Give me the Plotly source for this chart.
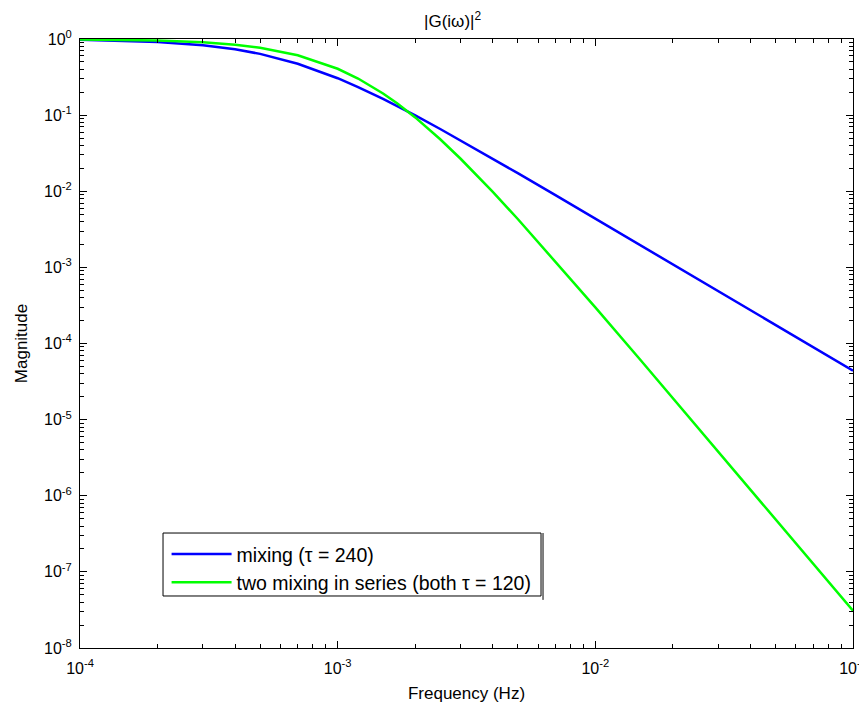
import plotly.graph_objects as go

freq = [1e-4, 2e-4, 3e-4, 4e-4, 5e-4, 7e-4, 1e-3, 1.2e-3, 1.5e-3, 1.7e-3, 2e-3,
        2.5e-3, 3e-3, 4e-3, 5e-3, 7e-3, 1e-2, 1.5e-2, 2e-2, 3e-2, 5e-2, 7e-2, 1e-1]
mag_mixing = [0.9778, 0.9166, 0.8301, 0.7332, 0.6376, 0.4730, 0.3054, 0.2339, 0.1635,
              0.1321, 0.0990, 0.06574, 0.04658, 0.02675, 0.01729, 0.008894, 0.004378,
              0.001951, 0.001098, 4.883e-4, 1.759e-4, 8.973e-5, 4.397e-5]
mag_series = [0.9887, 0.9560, 0.9050, 0.8402, 0.7666, 0.6117, 0.4065, 0.3023, 0.1925,
              0.1432, 0.09329, 0.04824, 0.02672, 0.009811, 0.004321, 0.001201, 2.988e-4,
              6.017e-5, 1.917e-5, 3.804e-6, 4.943e-7, 1.2877e-7, 3.093e-8]

x_tickvals = [1e-4, 1e-3, 1e-2, 1e-1]
x_ticktext = ["10<sup>-4</sup>", "10<sup>-3</sup>", "10<sup>-2</sup>", "10<sup>-1</sup>"]
y_tickvals = [1e-8, 1e-7, 1e-6, 1e-5, 1e-4, 1e-3, 1e-2, 1e-1, 1e0]
y_ticktext = ["10<sup>-8</sup>", "10<sup>-7</sup>", "10<sup>-6</sup>", "10<sup>-5</sup>",
              "10<sup>-4</sup>", "10<sup>-3</sup>", "10<sup>-2</sup>", "10<sup>-1</sup>",
              "10<sup>0</sup>"]

x_minor = [m * 10.0 ** e for e in range(-4, -1) for m in range(2, 10)]
y_minor = [m * 10.0 ** e for e in range(-8, 0) for m in range(2, 10)]

font = "Liberation Sans, Arial, sans-serif"


def axis_style(minor_vals, standoff):
    return dict(
        type="log", showgrid=False, zeroline=False, showline=True, automargin=False,
        linecolor="black", linewidth=1, mirror="ticks", ticks="inside",
        ticklen=7, tickcolor="black", ticklabelstandoff=standoff,
        tickfont=dict(size=16, color="black", family=font),
        minor=dict(tickmode="array", tickvals=minor_vals, ticks="inside",
                   ticklen=4, tickcolor="black", showgrid=False),
    )


fig = go.Figure()
fig.add_trace(go.Scatter(x=freq, y=mag_mixing, mode="lines",
                         line=dict(color="#0000FF", width=2.5),
                         name="mixing (\u03c4 = 240)"))
fig.add_trace(go.Scatter(x=freq, y=mag_series, mode="lines",
                         line=dict(color="#00FF00", width=2.5),
                         name="two mixing in series (both \u03c4 = 120)"))

fig.update_xaxes(range=[-4, -1], tickvals=x_tickvals, ticktext=x_ticktext,
                 title=dict(text="Frequency (Hz)", font=dict(size=17, color="black", family=font),
                            standoff=10),
                 **axis_style(x_minor, 6))
fig.update_yaxes(range=[-8, 0], tickvals=y_tickvals, ticktext=y_ticktext,
                 title=dict(text="Magnitude", font=dict(size=17, color="black", family=font),
                            standoff=12),
                 **axis_style(y_minor, 4))

# legend frame (MATLAB style, with doubled right edge)
fig.add_shape(type="rect", xref="paper", yref="paper",
              x0=0.1074, x1=0.5964, y0=0.0854, y1=0.1888,
              line=dict(color="black", width=1), fillcolor="white", layer="above")
fig.add_shape(type="line", xref="paper", yref="paper",
              x0=0.599, x1=0.599, y0=0.1888, y1=0.079,
              line=dict(color="black", width=1))

fig.update_layout(
    width=867, height=709,
    margin=dict(l=72, r=22, t=31, b=69, autoexpand=False),
    plot_bgcolor="white", paper_bgcolor="white",
    font=dict(family=font, size=16, color="black"),
    title=dict(text="|G(i\u03c9)|<sup>2</sup>", x=0.482, xref="paper", xanchor="center",
               y=0.99, yanchor="top", font=dict(size=17, color="black", family=font)),
    legend=dict(x=0.112, y=0.186, xanchor="left", yanchor="top",
                borderwidth=0, bgcolor="rgba(0,0,0,0)",
                font=dict(size=19.5, color="black", family=font),
                itemwidth=60, tracegroupgap=0),
    showlegend=True,
)

fig.write_html("out.html")
